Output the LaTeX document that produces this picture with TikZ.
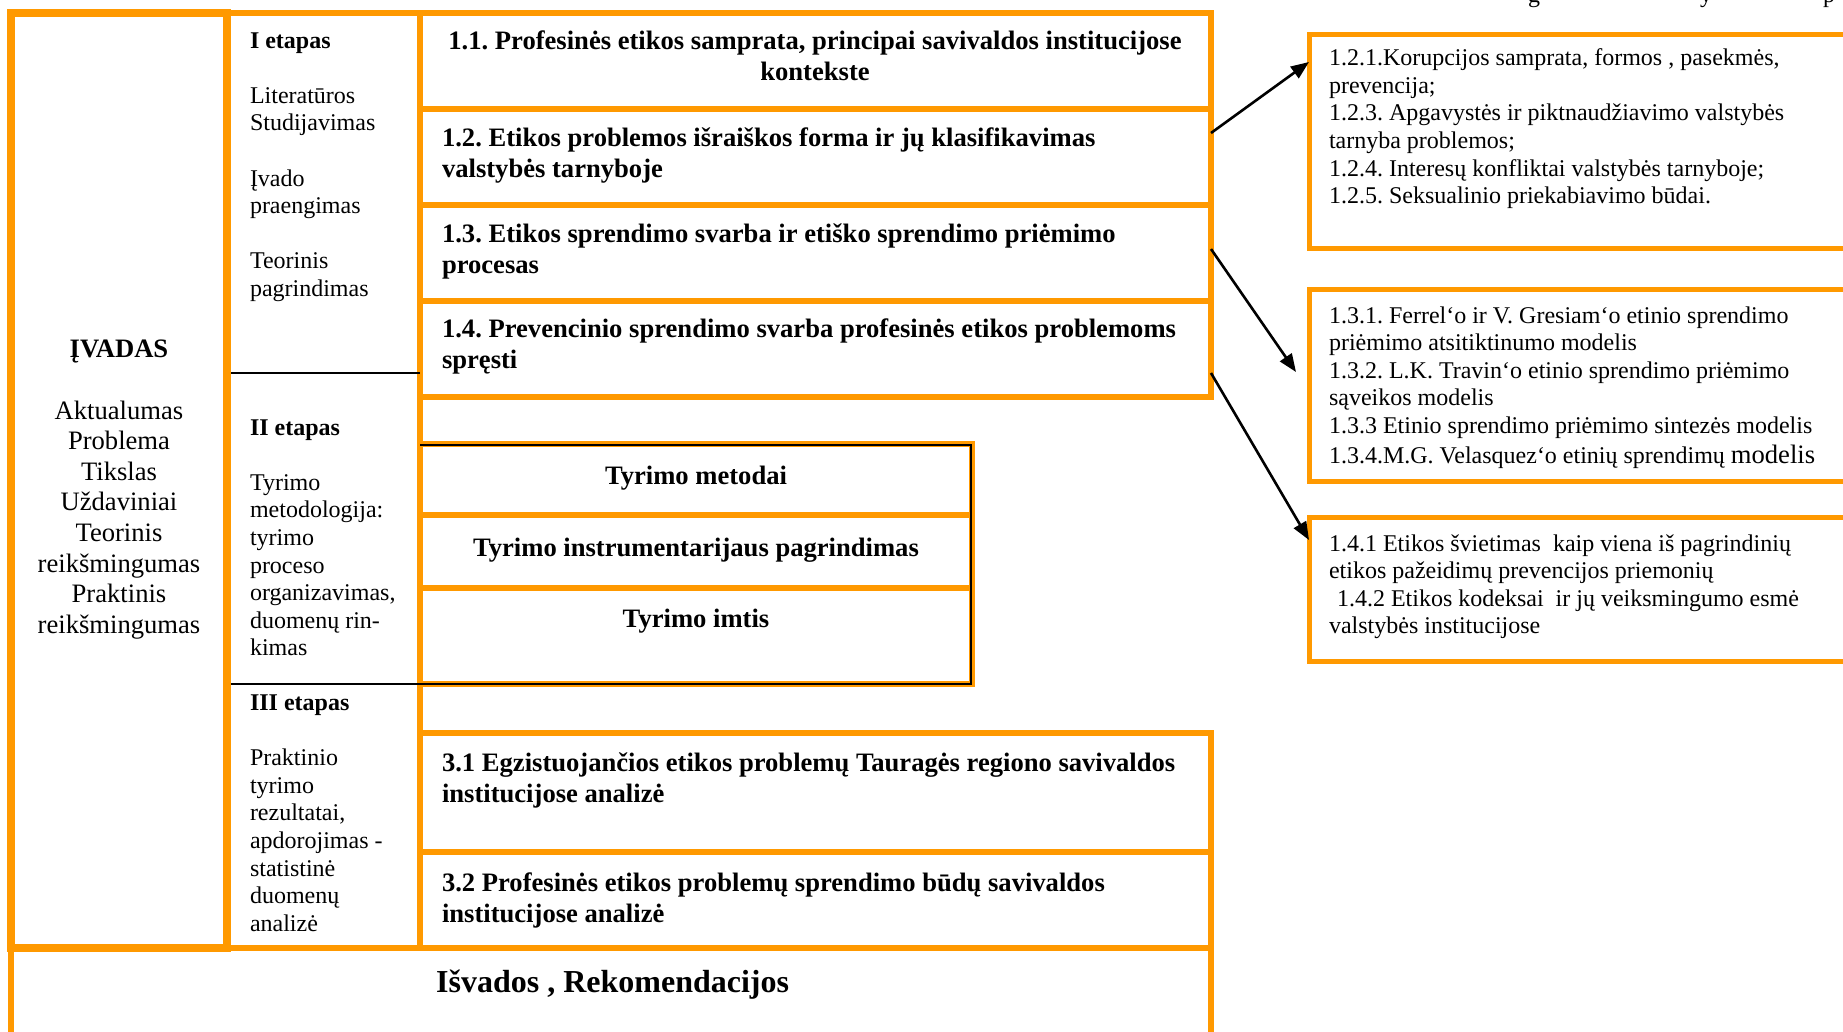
\documentclass[tikz,border=0pt]{standalone}
\usepackage{fontspec}
\setmainfont{Liberation Serif}
\usetikzlibrary{arrows.meta}
\definecolor{frameorange}{RGB}{255,153,0}
\frenchspacing
% font sizes (1pt = 1 output pixel)
\newcommand\fsText{\fontsize{24}{27.6}\selectfont}
\newcommand\fsMid{\fontsize{26.6}{30.6}\selectfont}
\newcommand\fsBold{\fontsize{26.6}{30.6}\selectfont\bfseries}
\newcommand\fsBig{\fontsize{32}{36}\selectfont\bfseries}
% fixes the height of the first line of a multi-line node
\newcommand\tstrut{\rule{0pt}{0.8em}}
\tikzset{
  cell/.style={draw=frameorange, line width=6pt, rectangle, inner sep=0pt,
    outer sep=0pt, anchor=north west},
  sidebox/.style={cell, line width=5pt},
  txt/.style={inner sep=0pt, outer sep=0pt, font=\fsText, align=left, anchor=north west},
  btxt/.style={inner sep=0pt, outer sep=0pt, font=\fsBold, align=left, anchor=north west},
  ctxt/.style={inner sep=0pt, outer sep=0pt, font=\fsBold, anchor=base},
  link/.style={black, line width=2.6pt, -{Triangle[length=18pt,width=14pt]}},
  blackrule/.style={black, line width=2.2pt},
}
\begin{document}
\begin{tikzpicture}[x=1pt, y=-1pt]
\useasboundingbox (0,0) rectangle (1843,1031);
\fill[white] (0,0) rectangle (1843,1031);
\clip (0,0) rectangle (1843,1031);

% caption line above the figure (only its descenders are inside the page)
\node[font=\fsText, anchor=base, inner sep=0pt] (capg) at (1534,2) {g};
\node[font=\fsText, anchor=base, inner sep=0pt] (capy) at (1706,2) {y};
\node[font=\fsText, anchor=base, inner sep=0pt] (capp) at (1829,2) {p};

% conclusions box (open at the bottom of the page)
\node[cell, minimum width=1200pt, minimum height=120pt] (concl) at (11,948) {};

% stages column
\node[cell, minimum width=193pt, minimum height=935pt] (stages) at (227,13) {};

% chapter 1 boxes
\node[cell, minimum width=791pt, minimum height=96pt] (b11) at (420,13) {};
\node[cell, minimum width=791pt, minimum height=96pt] (b12) at (420,109) {};
\node[cell, minimum width=791pt, minimum height=96pt] (b13) at (420,205) {};
\node[cell, minimum width=791pt, minimum height=96pt] (b14) at (420,301) {};

% methodology boxes
\node[cell, minimum width=552pt, minimum height=71pt] (m1) at (420,444) {};
\node[cell, minimum width=552pt, minimum height=73pt] (m2) at (420,515) {};
\node[cell, minimum width=552pt, minimum height=96pt] (m3) at (420,588) {};

% chapter 3 boxes
\node[cell, minimum width=791pt, minimum height=119pt] (b31) at (420,733) {};
\node[cell, minimum width=791pt, minimum height=96pt] (b32) at (420,852) {};

% introduction column
\node[cell, line width=7.5pt, minimum width=216pt, minimum height=935pt] (intro) at (11,13) {};

% sub-topic boxes on the right
\node[sidebox, minimum width=560pt, minimum height=214pt] (sideA) at (1309,34) {};
\node[sidebox, minimum width=560pt, minimum height=192pt] (sideB) at (1309,289) {};
\node[sidebox, minimum width=560pt, minimum height=144pt] (sideC) at (1309,517) {};

% black separators
\draw[blackrule] (231,373) -- (420,373);
\draw[blackrule] (231,684) -- (971,684) -- (971,445) -- (420,445);

% introduction text
\node[inner sep=0pt, outer sep=0pt, font=\fsMid, align=center, anchor=north] (introtext) at (119,336.7)
  {\tstrut\textbf{ĮVADAS}\\[30.6pt] Aktualumas\\ Problema\\ Tikslas\\ Uždaviniai\\ Teorinis\\
   reikšmingumas\\ Praktinis\\ reikšmingumas};

% stage texts
\node[txt] (stage1) at (250,28.8) {\tstrut\textbf{I etapas}\\[27.6pt] Literatūros\\ Studijavimas\\[27.6pt]
  Įvado\\ praengimas\\[27.6pt] Teorinis\\ pagrindimas};
\node[txt] (stage2) at (250,415.8) {\tstrut\textbf{II etapas}\\[27.6pt] Tyrimo\\ metodologija:\\ tyrimo\\
  proceso\\ organizavimas,\\ duomenų rin-\\ kimas};
\node[txt] (stage3) at (250,691.3) {\tstrut\textbf{III etapas}\\[27.6pt] Praktinio\\ tyrimo\\ rezultatai,\\
  apdorojimas -\\ statistinė\\ duomenų\\ analizė};

% chapter 1 texts
\node[btxt, align=center, anchor=north] (t11) at (815,28.7)
  {\tstrut 1.1. Profesinės etikos samprata, principai savivaldos institucijose\\ kontekste};
\node[btxt] (t12) at (442,125.2)
  {\tstrut 1.2. Etikos problemos išraiškos forma ir jų klasifikavimas\\ valstybės tarnyboje};
\node[btxt] (t13) at (442,221.7)
  {\tstrut 1.3. Etikos sprendimo svarba ir etiško sprendimo priėmimo\\ procesas};
\node[btxt] (t14) at (442,316.7)
  {\tstrut 1.4. Prevencinio sprendimo svarba profesinės etikos problemoms\\ spręsti};

% methodology texts
\node[ctxt] (tm1) at (696,484) {Tyrimo metodai};
\node[ctxt] (tm2) at (696,556) {Tyrimo instrumentarijaus pagrindimas};
\node[ctxt] (tm3) at (696,627) {Tyrimo imtis};

% chapter 3 texts
\node[btxt] (t31) at (442,750.7)
  {\tstrut 3.1 Egzistuojančios etikos problemų Tauragės regiono savivaldos\\ institucijose analizė};
\node[btxt] (t32) at (442,870.7)
  {\tstrut 3.2 Profesinės etikos problemų sprendimo būdų savivaldos\\ institucijose analizė};

% conclusions text
\node[inner sep=0pt, font=\fsBig, anchor=base west] (tconcl) at (436,992) {Išvados , Rekomendacijos};

% sub-topic texts
\node[txt] (tA) at (1329,46.4)
  {\tstrut 1.2.1.Korupcijos samprata, formos , pasekmės,\\ prevencija;\\
   1.2.3. Apgavystės ir piktnaudžiavimo valstybės\\ tarnyba problemos;\\
   1.2.4. Interesų konfliktai valstybės tarnyboje;\\ 1.2.5. Seksualinio priekabiavimo būdai.};
\node[txt] (tB) at (1329,303.8)
  {\tstrut 1.3.1. Ferrel‘o ir V. Gresiam‘o etinio sprendimo\\ priėmimo atsitiktinumo modelis\\
   1.3.2. L.K. Travin‘o etinio sprendimo priėmimo\\ sąveikos modelis\\
   1.3.3 Etinio sprendimo priėmimo sintezės modelis\\[2pt]
   1.3.4.M.G. Velasquez‘o etinių sprendimų {\fsMid modelis}};
\node[txt] (tC) at (1329,531.8)
  {\tstrut 1.4.1 Etikos švietimas\ \ kaip viena iš pagrindinių\\ etikos pažeidimų prevencijos priemonių\\
   \hspace*{8pt}1.4.2 Etikos kodeksai\ \ ir jų veiksmingumo esmė\\ valstybės institucijose};

% connectors from chapter 1 boxes to their sub-topics
\draw[link] ([yshift=24pt]b12.east) -- ([yshift=79pt]sideA.west);
\draw[link] ([yshift=4pt]b13.east) -- ([xshift=-13pt,yshift=13pt]sideB.west);
\draw[link] ([yshift=-24pt]b14.east) -- ([yshift=49pt]sideC.west);
\end{tikzpicture}
\end{document}
